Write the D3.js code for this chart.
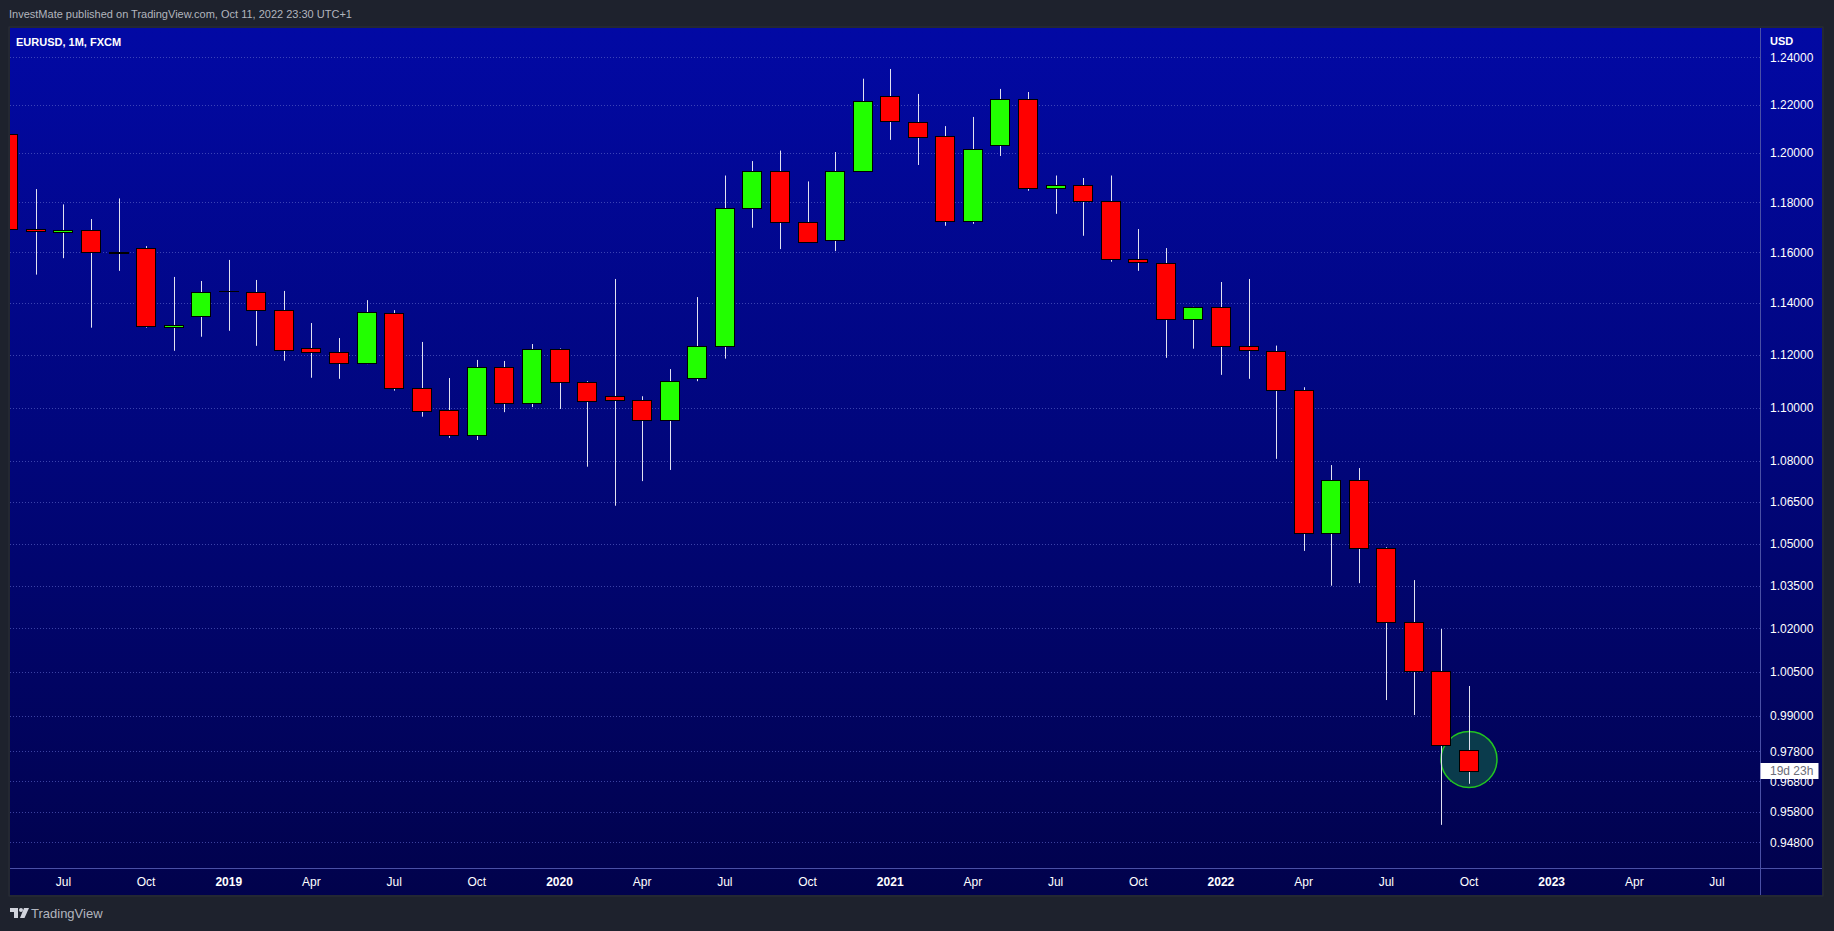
<!DOCTYPE html>
<html><head><meta charset="utf-8">
<script src="https://cdn.jsdelivr.net/npm/d3@7"></script>
<style>html,body{margin:0;padding:0;background:#1e222d;overflow:hidden}</style>
</head><body>
<svg id="chart" width="1834" height="931"></svg>
<script>
// ---------- data ----------
const months = ["2018-05","2018-06","2018-07","2018-08","2018-09","2018-10","2018-11","2018-12",
  "2019-01","2019-02","2019-03","2019-04","2019-05","2019-06","2019-07","2019-08","2019-09","2019-10","2019-11","2019-12",
  "2020-01","2020-02","2020-03","2020-04","2020-05","2020-06","2020-07","2020-08","2020-09","2020-10","2020-11","2020-12",
  "2021-01","2021-02","2021-03","2021-04","2021-05","2021-06","2021-07","2021-08","2021-09","2021-10","2021-11","2021-12",
  "2022-01","2022-02","2022-03","2022-04","2022-05","2022-06","2022-07","2022-08","2022-09","2022-10"];
const open = [1.2078,1.1692,1.1680,1.1690,1.1596,1.1616,1.1309,1.1349,
  1.1447,1.1445,1.1372,1.1228,1.1211,1.1168,1.1361,1.1073,1.0990,1.0896,1.1153,1.1018,
  1.1222,1.1096,1.1045,1.1027,1.0952,1.1113,1.1233,1.1776,1.1928,1.1720,1.1648,1.1926,
  1.2239,1.2128,1.2070,1.1726,1.2033,1.2224,1.1857,1.1869,1.1807,1.1575,1.1558,1.1337,
  1.1384,1.1234,1.1217,1.1065,1.0540,1.0730,1.0483,1.0223,1.0051,0.9783];
const high = [1.2097,1.1854,1.1792,1.1733,1.1816,1.1625,1.1503,1.1487,
  1.1570,1.1491,1.1448,1.1323,1.1265,1.1412,1.1373,1.1250,1.1112,1.1181,1.1177,1.1242,
  1.1225,1.1100,1.1495,1.1043,1.1146,1.1424,1.1909,1.1968,1.2011,1.1885,1.2005,1.2310,
  1.2351,1.2246,1.2112,1.2150,1.2267,1.2254,1.1909,1.1899,1.1909,1.1693,1.1617,1.1386,
  1.1483,1.1495,1.1236,1.1077,1.0786,1.0775,1.0487,1.0370,1.0198,1.0001];
const low = [1.1510,1.1512,1.1577,1.1305,1.1527,1.1305,1.1216,1.1270,
  1.1293,1.1235,1.1178,1.1113,1.1109,1.1165,1.1064,1.0966,1.0887,1.0879,1.0983,1.1002,
  1.0995,1.0780,1.0637,1.0727,1.0768,1.1100,1.1186,1.1698,1.1613,1.1640,1.1605,1.1925,
  1.2055,1.1952,1.1706,1.1714,1.1989,1.1847,1.1754,1.1666,1.1563,1.1527,1.1189,1.1224,
  1.1124,1.1109,1.0809,1.0474,1.0350,1.0359,0.9953,0.9902,0.9537,0.9672];
const close = [1.1692,1.1684,1.1690,1.1600,1.1603,1.1310,1.1317,1.1445,
  1.1445,1.1372,1.1218,1.1213,1.1168,1.1367,1.1073,1.0986,1.0896,1.1153,1.1016,1.1222,
  1.1096,1.1024,1.1030,1.0952,1.1099,1.1233,1.1776,1.1928,1.1720,1.1642,1.1926,1.2216,
  1.2132,1.2068,1.1726,1.2016,1.2224,1.1857,1.1869,1.1807,1.1575,1.1562,1.1337,1.1384,
  1.1234,1.1219,1.1065,1.0539,1.0730,1.0483,1.0223,1.0051,0.9800,0.9715];
const priceTicks = [1.24,1.22,1.20,1.18,1.16,1.14,1.12,1.10,1.08,1.065,1.05,1.035,1.02,1.005,0.99,0.978,0.968,0.958,0.948];
const timeLabels = ["Jul","Oct","2019","Apr","Jul","Oct","2020","Apr","Jul","Oct","2021","Apr","Jul","Oct","2022","Apr","Jul","Oct","2023","Apr","Jul"];
const firstLabelBar = 2, labelStep = 3;
const titleText = "InvestMate published on TradingView.com, Oct 11, 2022 23:30 UTC+1";
const symbolText = "EURUSD, 1M, FXCM";
const currencyText = "USD";
const countdownText = "19d 23h";
const highlightBar = 53, highlightPrice = 0.9753;

// ---------- layout ----------
const W = 1834, H = 931;
const paneL = 10, paneT = 28, paneR = 1760, paneB = 868, axR = 1822, axB = 895;
const svg = d3.select("#chart");
const FONT = "'Liberation Sans', Arial, sans-serif";

const x = d3.scaleLinear().domain([0, 62]).range([8.3, 8.3 + 27.56 * 62]);
const y = d3.scaleLog().domain([0.948, 1.24]).range([842.4, 57.4]);
const snap = v => Math.round(v) + 0.5;

const defs = svg.append("defs");
const grad = defs.append("linearGradient").attr("id","bg").attr("x1",0).attr("y1",0).attr("x2",0).attr("y2",1);
grad.append("stop").attr("offset","0%").attr("stop-color","#0209a4");
grad.append("stop").attr("offset","50%").attr("stop-color","#01067a");
grad.append("stop").attr("offset","100%").attr("stop-color","#01024c");
defs.append("clipPath").attr("id","pane").append("rect")
  .attr("x",paneL).attr("y",paneT).attr("width",paneR-paneL).attr("height",paneB-paneT);

svg.append("rect").attr("width",W).attr("height",H).attr("fill","#1e222d");
svg.append("rect").attr("x",paneL-1).attr("y",paneT-1).attr("width",axR-paneL+2).attr("height",axB-paneT+2)
  .attr("fill","none").attr("stroke","#2a2e39");
svg.append("rect").attr("x",paneL).attr("y",paneT).attr("width",axR-paneL).attr("height",axB-paneT).attr("fill","url(#bg)");

// grid
svg.append("g").selectAll("line").data(priceTicks).join("line")
  .attr("x1",paneL).attr("x2",paneR).attr("y1",d=>snap(y(d))).attr("y2",d=>snap(y(d)))
  .attr("stroke","#5a64c8").attr("stroke-opacity",0.65).attr("stroke-dasharray","1,2");

// separators
svg.append("line").attr("x1",paneR+0.5).attr("x2",paneR+0.5).attr("y1",paneT).attr("y2",axB)
  .attr("stroke","#4a50a6");
svg.append("line").attr("x1",paneL).attr("x2",axR).attr("y1",paneB+0.5).attr("y2",paneB+0.5)
  .attr("stroke","#4a50a6");

const plot = svg.append("g").attr("clip-path","url(#pane)");
// highlight circle
plot.append("circle").attr("cx",x(highlightBar)).attr("cy",y(highlightPrice)).attr("r",28)
  .attr("fill","#0a3b4c").attr("stroke","#22c422").attr("stroke-width",1.5);

const bars = d3.range(months.length);
plot.append("g").selectAll("line").data(bars).join("line")
  .attr("x1",i=>snap(x(i))).attr("x2",i=>snap(x(i)))
  .attr("y1",i=>y(high[i])).attr("y2",i=>y(low[i]))
  .attr("stroke","#e2e2f0").attr("stroke-width",1);

const bodies = plot.append("g");
bars.forEach(i => {
  const cx = Math.round(x(i));
  const y1 = y(Math.max(open[i], close[i])), y2 = y(Math.min(open[i], close[i]));
  if (y2 - y1 < 1) {
    bodies.append("line").attr("x1",cx-10).attr("x2",cx+10).attr("y1",snap(y1)).attr("y2",snap(y1))
      .attr("stroke","#000").attr("stroke-width",1);
  } else {
    bodies.append("rect").attr("x",cx-9.5).attr("y",Math.round(y1)+0.5).attr("width",19)
      .attr("height",Math.max(1,Math.round(y2)-Math.round(y1)))
      .attr("fill", close[i] >= open[i] ? "#22ff00" : "#ff0000")
      .attr("stroke","#000").attr("stroke-width",1);
  }
});

// price labels
svg.append("g").selectAll("text").data(priceTicks).join("text")
  .attr("x",1770).attr("y",d=>y(d)).attr("dy","0.35em")
  .attr("fill","#ffffff").attr("font-family",FONT).attr("font-size",12)
  .text(d=>d3.format(".5f")(d));
svg.append("text").attr("x",1770).attr("y",41).attr("dy","0.35em").attr("fill","#ffffff")
  .attr("font-family",FONT).attr("font-size",11).attr("font-weight","bold").text(currencyText);

// countdown label
const cy = y(close[close.length-1]);
svg.append("rect").attr("x",paneR+0.5).attr("y",Math.round(cy)-8).attr("width",58).attr("height",16).attr("fill","#ffffff");
svg.append("text").attr("x",1770).attr("y",cy).attr("dy","0.35em").attr("fill","#6a6d78")
  .attr("font-family",FONT).attr("font-size",12).text(countdownText);

// time labels
svg.append("g").selectAll("text").data(timeLabels).join("text")
  .attr("x",(d,k)=>x(firstLabelBar + k*labelStep)).attr("y",882).attr("dy","0.35em")
  .attr("text-anchor","middle").attr("fill","#ffffff").attr("font-family",FONT).attr("font-size",12)
  .attr("font-weight",d=>/^\d+$/.test(d) ? "bold" : "normal").text(d=>d);

// header & legend
svg.append("text").attr("x",9).attr("y",14).attr("dy","0.35em").attr("fill","#b2b5be")
  .attr("font-family",FONT).attr("font-size",11).text(titleText);
svg.append("text").attr("x",16).attr("y",42).attr("dy","0.35em").attr("fill","#ffffff")
  .attr("font-family",FONT).attr("font-size",11).attr("font-weight","bold").text(symbolText);

// logo
const logo = svg.append("g").attr("fill","#d1d4dc");
logo.append("path").attr("d","M10,908 h8 v10 h-4 v-6 h-4 z");
logo.append("circle").attr("cx",21).attr("cy",910).attr("r",2);
logo.append("path").attr("d","M24,908 h5 l-4.5,10 h-4.5 z");
svg.append("text").attr("x",31).attr("y",913).attr("dy","0.35em").attr("fill","#b2b5be")
  .attr("font-family",FONT).attr("font-size",13).text("TradingView");
</script>
</body></html>
